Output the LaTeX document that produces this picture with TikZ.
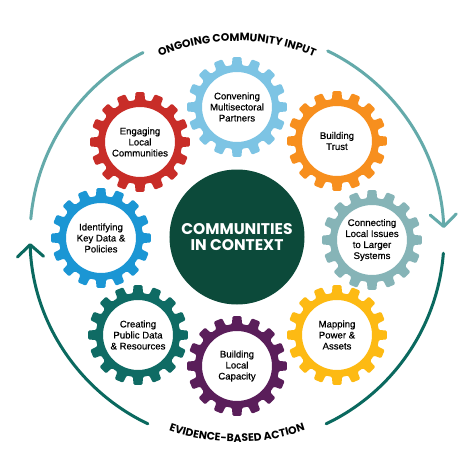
\documentclass[tikz,border=0pt]{standalone}
\usepackage{fontspec}
\setmainfont{Liberation Sans}
\newfontfamily\labfont[FakeBold=0.45]{Liberation Sans}
\newfontfamily\headfont{Poppins}
\usetikzlibrary{arrows.meta,decorations.text}
\definecolor{cConv}{RGB}{125,196,228}
\definecolor{cTrust}{RGB}{247,143,30}
\definecolor{cConn}{RGB}{134,180,183}
\definecolor{cMap}{RGB}{253,186,19}
\definecolor{cCap}{RGB}{90,30,90}
\definecolor{cCreate}{RGB}{15,107,100}
\definecolor{cIdent}{RGB}{27,150,212}
\definecolor{cEngage}{RGB}{200,45,40}
\definecolor{cCenter}{RGB}{12,74,58}
\definecolor{cRingLight}{RGB}{100,170,170}
\definecolor{cRingDark}{RGB}{10,105,95}
\tikzset{
  gearlabel/.style={align=center, font=\labfont\fontsize{9.6}{11}\selectfont, text=black, inner sep=0pt},
  ringline/.style={line width=3pt, line cap=round},
  ringtip/.style={-{Straight Barb[length=12pt, width=26pt, line width=3pt, line cap=round, line join=round]}},
  hub/.style={circle, fill=cCenter, minimum size=135pt, inner sep=0pt, text=white,
    align=center, font=\headfont\bfseries\fontsize{15.5}{15.5}\selectfont}
}
\newcommand{\gearat}[3]{%
  \fill[#3, even odd rule, rounded corners=1.3pt, shift={(#1,#2)}]
    (-5.2:50pt) \foreach \a in {0,22.5,...,337.5}{
      -- ({\a-5.2}:50pt) -- ({\a+5.2}:50pt) -- ({\a+6.8}:42pt)
      arc[start angle={\a+6.8}, end angle={\a+15.7}, radius=42pt] } -- cycle
    (0,0) circle[radius=35pt];
}
\begin{document}
\begin{tikzpicture}[x=1pt,y=1pt]
\useasboundingbox[fill=white] (-237,-237) rectangle (237,237);
% outer ring
\coordinate (la) at (175:207pt);
\coordinate (lb) at (64:207pt);
\coordinate (da) at (-4.5:207pt);
\coordinate (db) at (244.5:207pt);
\draw[ringline, cRingLight] (la) arc[start angle=175, end angle=117, radius=207pt];
\draw[ringline, ringtip, cRingLight] (lb) arc[start angle=64, end angle=2.5, radius=207pt];
\draw[ringline, cRingDark] (da) arc[start angle=-4.5, end angle=-64.5, radius=207pt];
\draw[ringline, ringtip, cRingDark] (db) arc[start angle=244.5, end angle=181.7, radius=207pt];
% curved labels
\path[decorate, decoration={text along path, text align=center,
  text={|\headfont\bfseries\fontsize{10.8}{11}\selectfont|ONGOING COMMUNITY INPUT}}]
  (122:196pt) arc[start angle=122, end angle=58, radius=196pt];
\path[decorate, decoration={text along path, text align=center,
  text={|\headfont\bfseries\fontsize{10.8}{11}\selectfont|EVIDENCE-BASED ACTION}}]
  (238:205pt) arc[start angle=238, end angle=302, radius=205pt];
% gears
\gearat{0}{130}{cConv}
\gearat{100}{96}{cTrust}
\gearat{135}{-3}{cConn}
\gearat{100}{-98}{cMap}
\gearat{0}{-129}{cCap}
\gearat{-99}{-98}{cCreate}
\gearat{-136}{-1}{cIdent}
\gearat{-97}{95}{cEngage}
\node[gearlabel] (conv) at (0,130) {Convening\\Multisectoral\\Partners};
\node[gearlabel] (trust) at (100,96) {Building\\Trust};
\node[gearlabel] (conn) at (135,-3) {Connecting\\Local Issues\\to Larger\\Systems};
\node[gearlabel] (map) at (100,-98) {Mapping\\Power \&\\Assets};
\node[gearlabel] (cap) at (0,-129) {Building\\Local\\Capacity};
\node[gearlabel] (create) at (-99,-98) {Creating\\Public Data\\\& Resources};
\node[gearlabel] (ident) at (-136,-1) {Identifying\\Key Data \&\\Policies};
\node[gearlabel] (engage) at (-97,95) {Engaging\\Local\\Communities};
% centre
\node[hub] (hub) at (0,0) {COMMUNITIES\\IN CONTEXT};
\end{tikzpicture}
\end{document}
